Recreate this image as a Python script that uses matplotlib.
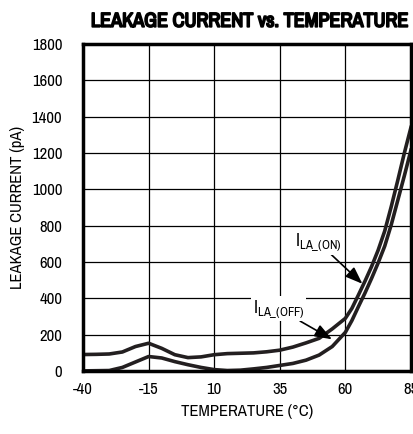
import matplotlib
matplotlib.use('Agg')
import matplotlib.pyplot as plt
import matplotlib.patheffects as pe
from matplotlib import font_manager
from matplotlib.font_manager import FontProperties

# pick a condensed face if one is installed
names = set(f.name for f in font_manager.fontManager.ttflist)
narrow = [n for n in sorted(names) if 'Narrow' in n or 'Condensed' in n]
if narrow:
    plt.rcParams['font.family'] = [narrow[0], 'DejaVu Sans']
else:
    plt.rcParams['font.family'] = ['DejaVu Sans']
    plt.rcParams['font.stretch'] = 'condensed'
plt.rcParams['axes.unicode_minus'] = False
path = font_manager.findfont(FontProperties(family=plt.rcParams['font.family']))
condensed = narrow or 'Condensed' in path

# data
temp = [-40, -35, -30, -25, -20, -15, -10, -5, 0, 5, 10, 15, 20, 25, 30, 35,
        40, 45, 50, 55, 60, 62.5, 65, 67.5, 70, 72.5, 75, 77.5, 80, 82.5, 85]
i_on = [91, 92, 94, 105, 135, 153, 125, 90, 74, 78, 90, 96, 98, 100, 106, 115,
        132, 155, 180, 232, 290, 345, 419, 495, 575, 665, 770, 905, 1050, 1200, 1340]
i_off = [1, 2, 3, 20, 50, 80, 72, 52, 35, 20, 8, 3, 5, 12, 20, 31,
         42, 60, 88, 135, 213, 278, 355, 430, 510, 595, 687, 805, 940, 1075, 1215]
xticks = [-40, -15, 10, 35, 60, 85]
yticks = [0, 200, 400, 600, 800, 1000, 1200, 1400, 1600, 1800]

fs = 12 if condensed else 10

fig = plt.figure(figsize=(4.13, 4.34), dpi=100)
ax = fig.add_axes([0.201, 0.145, 0.794, 0.754])

ink = '#231f20'
ax.plot(temp, i_on, color=ink, lw=2.6)
ax.plot(temp, i_off, color=ink, lw=2.6)

ax.set_xlim(-40, 85)
ax.set_ylim(0, 1800)
ax.set_xticks(xticks)
ax.set_yticks(yticks)
ax.tick_params(length=0, labelsize=fs, pad=8)
ax.tick_params(axis='y', pad=15)
ax.grid(True, color='black', lw=0.9)
for s in ax.spines.values():
    s.set_linewidth(2.5)
    s.set_color('black')

ax.set_xlabel('TEMPERATURE (°C)', fontsize=fs, labelpad=5)
ax.set_ylabel('LEAKAGE CURRENT (pA)', fontsize=fs, labelpad=5)
title = fig.text(0.988, 0.951, 'LEAKAGE CURRENT vs. TEMPERATURE', ha='right', va='center',
                 fontsize=fs + 2.5, fontweight='bold')
title.set_path_effects([pe.withStroke(linewidth=1.3, foreground='black')])

arrow = dict(arrowstyle='-|>,head_length=0.8,head_width=0.3', color='black', lw=1.2,
             shrinkA=0, shrinkB=0)
ax.annotate(r'I$_{\mathregular{LA\_(ON)}}$', xy=(66.5, 480), xytext=(49.6, 709),
            ha='center', va='center', fontsize=fs + 1,
            bbox=dict(fc='white', ec='none', pad=1),
            arrowprops=arrow)
ax.annotate(r'I$_{\mathregular{LA\_(OFF)}}$', xy=(54.9, 175), xytext=(34.5, 343),
            ha='center', va='center', fontsize=fs + 1,
            bbox=dict(fc='white', ec='none', pad=1),
            arrowprops=arrow)

fig.savefig('out.png', dpi=100)
